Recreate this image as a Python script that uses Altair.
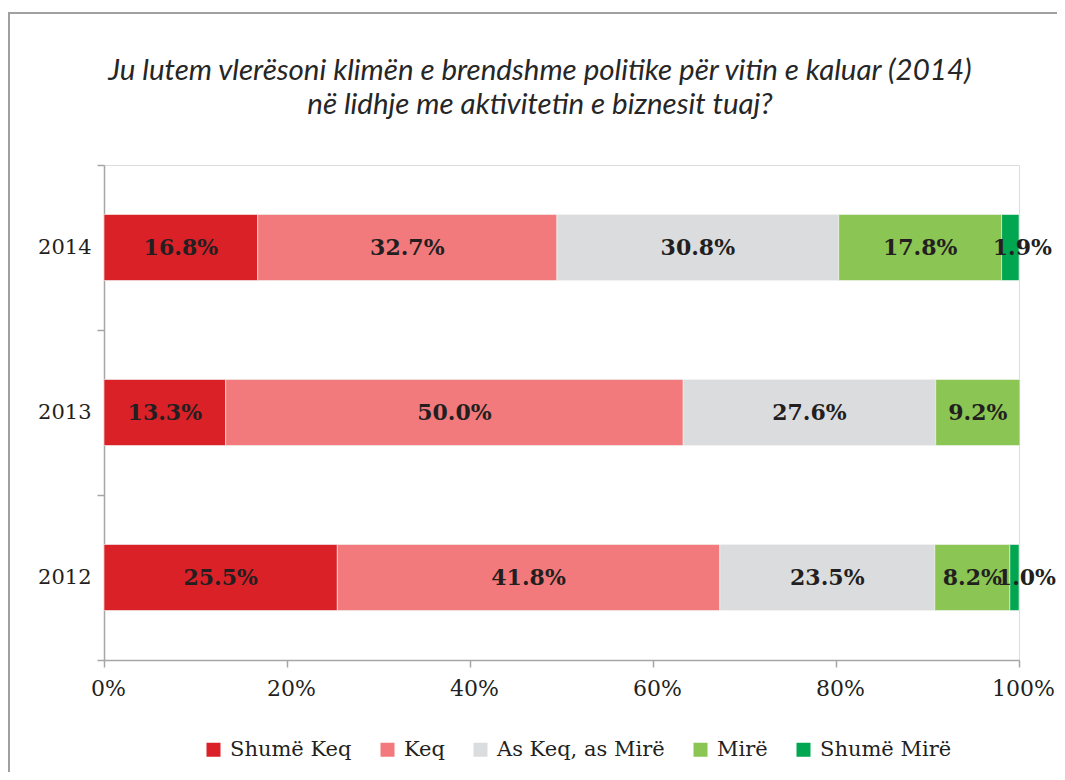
import altair as alt
import pandas as pd

years = ["2014", "2013", "2012"]
categories = ["Shumë Keq", "Keq", "As Keq, as Mirë", "Mirë", "Shumë Mirë"]
colors = ["#DA2128", "#F27A7C", "#DBDCDE", "#8BC553", "#00A650"]
values_2014 = [16.8, 32.7, 30.8, 17.8, 1.9]
values_2013 = [13.3, 50.0, 27.6, 9.2, None]
values_2012 = [25.5, 41.8, 23.5, 8.2, 1.0]
x_ticks = [0, 20, 40, 60, 80, 100]
title_line1 = "Ju lutem vlerësoni klimën e brendshme politike për vitin e kaluar (2014)"
title_line2 = "në lidhje me aktivitetin e biznesit tuaj?"

rows = []
for yr, vals in zip(years, [values_2014, values_2013, values_2012]):
    for i, (c, v) in enumerate(zip(categories, vals)):
        if v is None:
            continue
        rows.append({"year": yr, "cat": c, "order": i, "value": v})
df = pd.DataFrame(rows)

SERIF = "DejaVu Serif"
GREY = "#A6A6A6"
TXT = "#231F20"

base = alt.Chart(df).transform_stack(
    stack="value", groupby=["year"], as_=["x0", "x1"], sort=[alt.SortField("order")]
).transform_calculate(
    mid="(datum.x0 + datum.x1) / 2",
    label="format(datum.value, '.1f') + '%'",
)

yenc = alt.Y(
    "year:N",
    sort=years,
    scale=alt.Scale(paddingInner=0, paddingOuter=0),
    axis=alt.Axis(
        title=None, tickBand="extent", tickSize=7, tickColor=GREY, tickWidth=1.5,
        domainColor=GREY, domainWidth=1.5, labelFont=SERIF, labelFontSize=21,
        labelColor=TXT, labelPadding=6,
    ),
)

bars = base.mark_bar(
    height=alt.RelativeBandSize(0.4), stroke="#F4F4F4", strokeWidth=0.6
).encode(
    x=alt.X(
        "x0:Q",
        scale=alt.Scale(domain=[0, 100], nice=False),
        axis=alt.Axis(
            title=None, values=x_ticks, labelExpr="datum.value + '%'", grid=False,
            tickSize=7, tickColor=GREY, tickWidth=1.5, domainColor=GREY, domainWidth=1.5,
            labelFont=SERIF, labelFontSize=22, labelColor=TXT, labelPadding=11,
            labelFlush=False, labelOffset=4, labelOverlap=False,
        ),
    ),
    x2="x1:Q",
    y=yenc,
    color=alt.Color(
        "cat:N",
        scale=alt.Scale(domain=categories, range=colors),
        legend=alt.Legend(
            title=None, orient="none", legendX=99, legendY=574, direction="horizontal",
            symbolType="square", symbolSize=196, symbolStrokeWidth=0,
            labelFont=SERIF, labelFontSize=21, labelColor=TXT, labelOffset=6,
            columnPadding=25, labelLimit=400,
        ),
    ),
    order=alt.Order("order:Q"),
)

labels_main = base.transform_filter(
    alt.datum.cat != categories[-1]
).mark_text(
    font=SERIF, fontWeight="bold", fontSize=22, color=TXT
).encode(
    x=alt.X("mid:Q"),
    y=alt.Y("year:N", sort=years),
    text="label:N",
)

labels_small = base.transform_filter(
    alt.datum.cat == categories[-1]
).mark_text(
    font=SERIF, fontWeight="bold", fontSize=22, color=TXT, dx=12
).encode(
    x=alt.X("mid:Q"),
    y=alt.Y("year:N", sort=years),
    text="label:N",
)

one = alt.Data(values=[{"b": 1}])

border = alt.Chart(one).mark_rect(
    fillOpacity=0, stroke="#A0A0A0", strokeWidth=2
).encode(
    x=alt.value(-95), x2=alt.value(980), y=alt.value(-152), y2=alt.value(640)
)

title_style = dict(
    font="Lato", fontStyle="italic", fontWeight="normal", fontSize=29.5,
    color="#262626", align="center", baseline="alphabetic",
)
title1 = alt.Chart(one).mark_text(**title_style).encode(
    x=alt.value(436), y=alt.value(-85), text=alt.value(title_line1)
)
title2 = alt.Chart(one).mark_text(**title_style).encode(
    x=alt.value(436), y=alt.value(-51), text=alt.value(title_line2)
)

chart = alt.layer(bars, labels_main, labels_small, border, title1, title2).properties(
    width=915,
    height=495,
    autosize=alt.AutoSizeParams(type="none"),
    padding={"left": 96, "top": 157, "right": 38, "bottom": 112},
).configure_view(
    fill="#F0F1F3", stroke=None
).configure(background="white")

chart.save("out.html", embed_options={"renderer": "svg", "actions": False})
